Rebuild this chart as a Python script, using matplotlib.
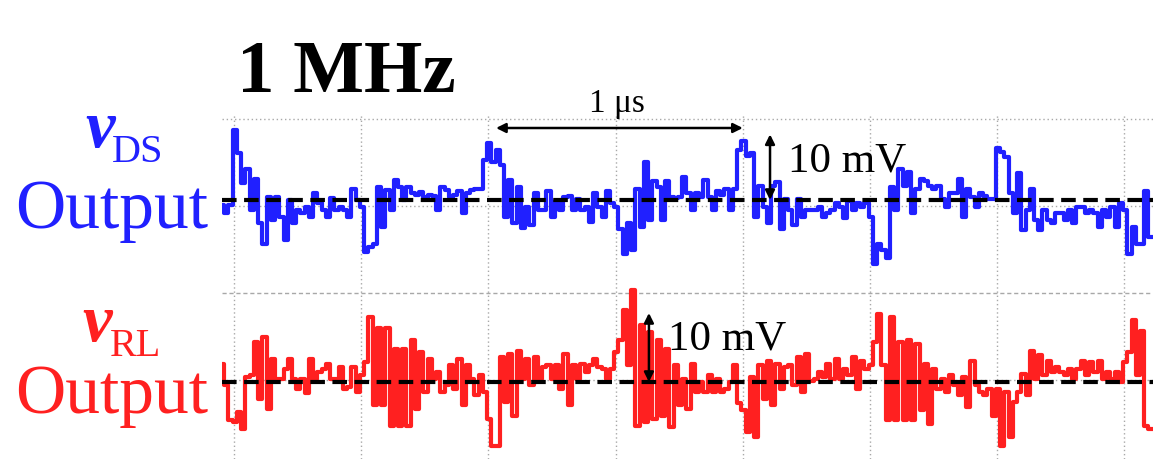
import matplotlib
matplotlib.use('Agg')
import matplotlib.pyplot as plt
import numpy as np

# sampled traces (mV, relative to each dashed baseline), one value per 1/60 us
v_ds = [
    -0.8, -2.0, -0.8, 10.4, 7.0, 2.5, 4.7, -1.5, 3.2, -3.5,
    -6.5, 0.5, -3.0, 0.5, -2.5, -6.0, 0.0, -3.5, -1.5, -2.0,
    -1.0, -2.5, 1.0, -0.5, -1.5, -2.5, 0.3, -1.5, -1.0, -1.5,
    -2.5, 1.6, 0.0, -1.0, -7.8, -7.0, -6.5, 2.0, -4.0, 1.5,
    -1.5, 3.0, 2.0, 0.0, 2.0, 1.0, 0.8, 1.2, 0.5, 0.8,
    0.6, -1.5, 2.0, 1.5, 0.5, 0.8, 1.3, -2.0, 1.0, 1.5,
    1.6, 1.6, 6.0, 8.5, 5.7, 7.5, 5.2, -2.5, 3.0, -3.5,
    2.0, -4.2, -1.0, -3.7, 1.1, -1.5, -1.5, 1.3, -2.5, -0.2,
    -1.5, 0.5, 0.6, -1.5, 0.1, -1.5, -1.0, -3.3, 1.0, -1.0,
    -2.5, 1.4, -0.4, -1.0, -4.3, -8.0, -3.5, -7.5, 1.6, -4.0,
    5.7, -3.0, 2.9, 2.0, -3.0, 2.9, 0.5, 0.3, 0.5, 3.4,
    1.1, -1.5, 1.1,
    0.5, 3.0, 0.5, -1.5, 1.4, 0.8, 1.6, -1.5, 1.6, 7.5,
    8.8, 6.5, 7.0, -2.5, 2.1, -1.0, -3.5, 2.1, 2.7, -4.3,
    0.1, -1.5, -3.7, 0.1, -2.5, -1.5, -1.5, -1.5, -1.0, -2.5,
    -2.0, -1.5, -0.4, -1.0, -2.7, -0.2, -1.5, -0.4, -1.0, -0.4,
    -2.5, -9.6, -6.5, -7.5, -8.6, 1.9, -1.5, 4.7, 2.1, 4.2,
    -2.0, 1.6, 3.2, 2.9, 2.1, 1.6, 2.1, 0.1, -1.0, 1.1,
    1.1, 3.1, -2.5, 1.6, 0.5, -1.0, 1.1, 0.6, 0.2, 0.1,
    7.8, 7.2, 6.4, 1.1, -2.0, 4.0, -4.5, -1.5, 1.6, -3.0,
    -4.5, -1.5, -3.0, -3.5, -2.0, -2.0, -3.0, -1.5, -3.5, -1.0,
    -1.0, -2.0, -1.5, -2.0, -4.0, -1.5, -2.5, -1.0, -4.0, -0.4,
    -1.5, -8.0, -4.0, -6.5, -6.5, 1.4, -5.5,
]

v_rl = [
    2.7, -0.5, -5.7, -6.0, -4.5, -7.0, 0.7, 1.0, 6.0, -2.5,
    6.7, -4.0, 3.5, 0.5, 0.5, 2.0, 3.5, 0.5, -1.0, 0.5,
    -1.7, 3.5, 0.5, 1.5, 2.0, 2.7, 0.5, 0.5, 2.2, -1.0,
    -0.7, 2.2, -1.5, 1.0, 3.0, 9.7, -3.5, 8.0, -3.5, 8.0,
    -6.5, 5.0, -6.5, 5.0, -6.5, 6.2, -4.0, 4.5, -1.5, 3.5,
    0.5, 1.5, -1.5, -0.5, 2.5, -1.0, 3.5, -3.5, 2.5, 0.5,
    -2.0, 1.0, -1.5, -5.5, -9.5, -9.5, 3.7, -3.0, 4.2, -5.0,
    4.7, 0.5, 3.5, -0.5, 3.7, 0.5, 2.2, 2.5, 0.5, 2.5,
    -1.0, 4.2, -3.5, 2.5, 0.5, 2.7, 1.5, 2.5, 3.5, 2.2,
    2.0, 0.5, 2.0, 4.5, 6.2, 10.7, 2.5, 13.7, -6.5, 8.5,
    -6.0, 7.5, -5.5, 6.2, -5.0, 5.0, -6.7, 2.5, -3.5, 0.5,
    -4.0, 2.7, -1.5,
    0.0, -1.5, 1.0, -1.5, 0.5, -1.5, -1.0, 0.0, 2.5, -3.2,
    -4.2, -7.5, 0.7, -8.2, 2.5, -2.5, 3.2, -3.5, 2.7, -1.0,
    2.2, 2.5, -0.5, 3.7, -1.5, 4.2, 0.2, 0.5, 1.5, 0.7,
    2.7, 0.5, 3.5, 0.5, 2.0, 1.0, 3.7, -1.0, 3.2, 2.0,
    2.5, 6.0, 10.2, 2.5, -5.7, 9.7, -5.7, 6.0, -5.7, 6.2,
    -5.7, 5.7, -4.2, 2.7, -6.2, 2.0, -1.0, 0.5, -1.5, 1.0,
    -0.5, -2.0, 0.7, -3.7, 3.2, -0.5, -1.5, -2.0, -1.0, -5.0,
    -1.0, -9.5, -1.5, -8.2, -3.0, -1.5, 1.2, -2.0, 4.7, 0.5,
    4.0, 1.0, 3.2, 1.5, 2.2, 1.5, 1.0, 2.0, 0.5, 2.0,
    3.2, 1.0, 3.0, 1.5, 3.2, 0.5, 1.5, 0.5, 1.5, 0.0,
    3.0, 4.5, 9.2, 1.0, 7.6, -6.5, -7.0,
]

t0 = -0.047      # us, time of first sample
dt = 1.0 / 60    # us per sample
t = t0 + dt * np.arange(len(v_ds))

W, H = 1153, 460
PX_PER_MV = 6.7
TOP_BASE = (H - 201) / PX_PER_MV
BOT_BASE = (H - 383) / PX_PER_MV

def ypx(y):
    return (H - y) / PX_PER_MV

serif = 'Liberation Serif'
blue = '#2020ff'
red = '#ff2020'

fig = plt.figure(figsize=(W / 100, H / 100), dpi=100)
ax = fig.add_axes([222 / W, 0, 931 / W, 345 / H])
ax.set_xlim(-12 / 254.4, 919 / 254.4)
ax.set_ylim(0, 345 / PX_PER_MV)
ax.axis('off')

# scope grid
for x in np.arange(0, 3.6, 0.5):
    ax.axvline(x, color='#a8a8a8', lw=1, ls=(0, (1, 2)), zorder=0)
for y in [120, 207, 381]:
    ax.axhline(ypx(y), color='#a8a8a8', lw=1, ls=(0, (1, 2)), zorder=0)
ax.axhline(ypx(294), color='#a8a8a8', lw=1, ls=(0, (3, 2)), zorder=0)

ax.step(t, TOP_BASE + np.array(v_ds), where='mid', color=blue, lw=3.0, zorder=2)
ax.step(t, BOT_BASE + np.array(v_rl), where='mid', color=red, lw=3.0, zorder=2)

ax.axhline(TOP_BASE, color='k', lw=3, dashes=(3.5, 1.8), zorder=3)
ax.axhline(BOT_BASE, color='k', lw=3, dashes=(3.5, 1.8), zorder=3)

# scale arrows
arr = dict(arrowstyle='<|-|>', lw=1.8, color='k', mutation_scale=14,
           shrinkA=0, shrinkB=0)
ax.annotate('', xy=(2.0, ypx(129)), xytext=(1.03, ypx(129)), arrowprops=arr, zorder=4)
ax.annotate('', xy=(2.107, TOP_BASE + 9.8), xytext=(2.107, TOP_BASE), arrowprops=arr, zorder=4)
ax.annotate('', xy=(1.631, BOT_BASE + 10.3), xytext=(1.631, BOT_BASE), arrowprops=arr, zorder=4)

ax.text(1.506, ypx(112), '1 μs', ha='center', va='baseline', fontsize=24, family=serif)
ax.text(2.178, ypx(171), '10 mV', ha='left', va='baseline', fontsize=31, family=serif, zorder=5)
ax.text(1.706, ypx(350), '10 mV', ha='left', va='baseline', fontsize=31, family=serif, zorder=5)

# labels outside the scope area
fig.text(237 / W, 1 - 92 / H, '1 MHz', fontsize=54, weight='bold', family=serif, va='baseline')

fig.text(85 / W, 1 - 147 / H, 'v', fontsize=48, weight='bold', style='italic',
         family=serif, color=blue, va='baseline')
fig.text(112 / W, 1 - 162 / H, 'DS', fontsize=29, family=serif, color=blue, va='baseline')
fig.text(15 / W, 1 - 228 / H, 'Output', fontsize=50, family=serif, color=blue, va='baseline')

fig.text(82 / W, 1 - 341 / H, 'v', fontsize=48, weight='bold', style='italic',
         family=serif, color=red, va='baseline')
fig.text(110 / W, 1 - 356 / H, 'RL', fontsize=29, family=serif, color=red, va='baseline')
fig.text(15 / W, 1 - 413 / H, 'Output', fontsize=50, family=serif, color=red, va='baseline')

fig.savefig('out.png', dpi=100)
